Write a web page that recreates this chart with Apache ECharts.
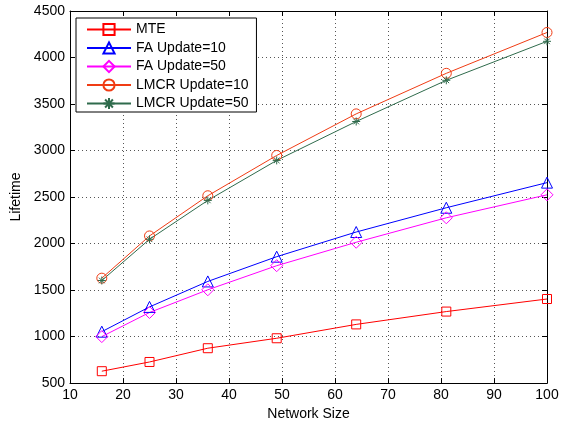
<!DOCTYPE html>
<html><head><meta charset="utf-8">
<script src="https://cdn.jsdelivr.net/npm/echarts@6/dist/echarts.min.js"></script>
<style>html,body{margin:0;padding:0;background:#fff}#c{width:564px;height:426px}</style>
</head><body><div id="c"></div>
<script>
const networkSize = [16, 25, 36, 49, 64, 81, 100];
const mte = [628, 727, 875, 982, 1131, 1269, 1404];
const fa10 = [1053, 1319, 1593, 1859, 2124, 2385, 2655];
const fa50 = [1000, 1259, 1503, 1762, 2014, 2277, 2524];
const lmcr10 = [1628, 2082, 2514, 2947, 3394, 3830, 4269];
const lmcr50 = [1603, 2046, 2464, 2894, 3312, 3755, 4174];
const seriesNames = ['MTE', 'FA Update=10', 'FA Update=50', 'LMCR Update=10', 'LMCR Update=50'];
const xTicks = {min: 10, max: 100, interval: 10};
const yTicks = {min: 500, max: 4500, interval: 500};

const font = 'Liberation Sans, Arial, Helvetica, sans-serif';
const star = 'path://M0 5 L10 5 M5 0 L5 10 M1.5 1.5 L8.5 8.5 M8.5 1.5 L1.5 8.5';
function pairs(vals){ return networkSize.map((x,i)=>[x, vals[i]]); }
function mk(name, vals, color, symbol, size){
  return {
    name, type:'line', data: pairs(vals), symbol, symbolSize: size,
    showAllSymbol: true, animation:false,
    lineStyle:{color, width:1},
    itemStyle:{color:'rgba(0,0,0,0)', borderColor: color, borderWidth:1},
    emphasis:{disabled:true}
  };
}
const chart = echarts.init(document.getElementById('c'), null, {renderer:'canvas'});
const axisCommon = {
  axisLine:{show:true, onZero:false, lineStyle:{color:'#000', width:1}},
  axisTick:{show:true, inside:true, length:5, lineStyle:{color:'#000'}},
};
chart.setOption({
  backgroundColor:'#fff',
  textStyle:{fontFamily: font},
  grid:{left:70, right:17, top:11, bottom:39, show:false},
  legend:{
    orient:'vertical', left:76, top:18, data: seriesNames,
    backgroundColor:'#fff', borderColor:'#000', borderWidth:1,
    padding:[4.5,8,1.5,10], itemWidth:44, itemHeight:14, itemGap:4.5,
    textStyle:{fontFamily:font, fontSize:14, color:'#000', padding:[0,0,0,0]},
    selectedMode:false
  },
  xAxis:[
    Object.assign({type:'value', min:xTicks.min, max:xTicks.max, interval:xTicks.interval,
      name:'Network Size', nameLocation:'middle', nameGap:22,
      nameTextStyle:{fontFamily:font, fontSize:14, color:'#000'},
      axisLabel:{fontFamily:font, fontSize:14, color:'#000', margin:5},
      splitLine:{show:true, lineStyle:{color:'#555', type:[1,3], width:1}}}, axisCommon),
    Object.assign({type:'value', position:'top', min:xTicks.min, max:xTicks.max, interval:xTicks.interval,
      axisLabel:{show:false}, splitLine:{show:false}}, axisCommon)
  ],
  yAxis:[
    Object.assign({type:'value', min:yTicks.min, max:yTicks.max, interval:yTicks.interval,
      name:'Lifetime', nameLocation:'middle', nameGap:43,
      nameTextStyle:{fontFamily:font, fontSize:14, color:'#000'},
      axisLabel:{fontFamily:font, fontSize:14, color:'#000', margin:5, formatter: v => String(v)},
      splitLine:{show:true, lineStyle:{color:'#555', type:[1,3], width:1}}}, axisCommon),
    Object.assign({type:'value', position:'right', min:yTicks.min, max:yTicks.max, interval:yTicks.interval,
      axisLabel:{show:false}, splitLine:{show:false}}, axisCommon)
  ],
  series:[
    mk(seriesNames[0], mte, '#ff0000', 'rect', 9),
    mk(seriesNames[1], fa10, '#0000ff', 'triangle', 11),
    mk(seriesNames[2], fa50, '#ff00ff', 'diamond', 12),
    mk(seriesNames[3], lmcr10, '#f03c14', 'circle', 10),
    mk(seriesNames[4], lmcr50, '#2f6b4c', star, 8)
  ]
});
</script></body></html>
